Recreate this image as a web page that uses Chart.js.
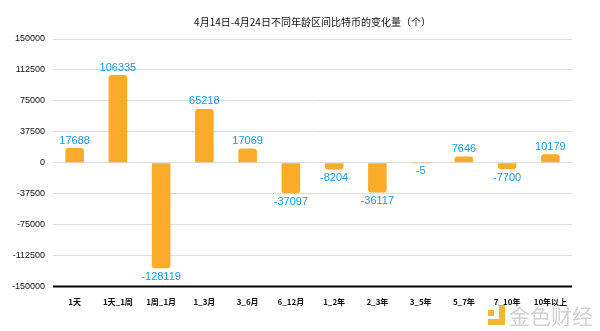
<!DOCTYPE html>
<html><head><meta charset="utf-8">
<script src="https://cdn.jsdelivr.net/npm/chart.js@4/dist/chart.umd.min.js"></script>
<style>html,body{margin:0;padding:0;background:#fff}#wrap{width:600px;height:331px}</style>
</head><body><div id="wrap"><canvas id="c" width="600" height="331"></canvas></div>
<script>
const categories = ['1天','1天_1周','1周_1月','1_3月','3_6月','6_12月','1_2年','2_3年','3_5年','5_7年','7_10年','10年以上'];
const values = [17688,106335,-128119,65218,17069,-37097,-8204,-36117,-5,7646,-7700,10179];
const yTicks = [150000,112500,75000,37500,0,-37500,-75000,-112500,-150000];
const titleText = '4月14日-4月24日不同年龄区间比特币的变化量（个）';
const FONT = "'Noto Sans CJK SC','Noto Sans',sans-serif";
const NUMFONT = "'Liberation Sans','Noto Sans',sans-serif";

const labelPlugin = {
  id:'vlabels',
  afterDatasetsDraw(chart){
    const ctx = chart.ctx;
    const meta = chart.getDatasetMeta(0);
    ctx.save();
    ctx.font = "11px " + NUMFONT;
    ctx.fillStyle = '#1e96dc';
    ctx.textAlign = 'center';
    meta.data.forEach((bar,i)=>{
      const v = values[i];
      if (v >= 0) { ctx.textBaseline='bottom'; ctx.fillText(String(v), bar.x, bar.y - 2); }
      else { ctx.textBaseline='top'; ctx.fillText(String(v), bar.x, bar.y + 3); }
    });
    ctx.restore();
  }
};
const decor = {
  id:'decor',
  afterDatasetsDraw(chart){
    const {ctx, chartArea:a} = chart;
    ctx.save();
    ctx.strokeStyle='#000'; ctx.lineWidth=2;
    ctx.beginPath(); ctx.moveTo(a.left, a.bottom); ctx.lineTo(a.right, a.bottom); ctx.stroke();
    // title centred over the plot area
    ctx.font = "10px " + FONT;
    ctx.fillStyle = '#111';
    ctx.textAlign='center'; ctx.textBaseline='middle';
    ctx.fillText(titleText, (a.left + a.right)/2, 22);
    // watermark
    ctx.fillStyle='#f2b630';
    ctx.fillRect(488,310,6,6);
    ctx.fillRect(499,305,6,20);
    ctx.fillRect(488,319,17,6);
    ctx.font = "21px " + FONT;
    ctx.fillStyle='#d2d2d2';
    ctx.textAlign='left'; ctx.textBaseline='middle';
    ctx.fillText('金色财经', 509, 316);
    ctx.restore();
  }
};

new Chart(document.getElementById('c'), {
  type:'bar',
  data:{ labels:categories, datasets:[{ data:values, backgroundColor:'#fbab2a', borderWidth:0, borderRadius:3, barPercentage:0.43, categoryPercentage:1 }]},
  options:{
    responsive:false, animation:false,
    layout:{ padding:{ left:6, right:28, top:39, bottom:21 } },
    plugins:{ legend:{display:false}, tooltip:{enabled:false}, title:{display:false} },
    scales:{
      x:{ grid:{display:false}, border:{display:false},
          ticks:{ color:'#111', font:{family:FONT, size:8, weight:'bold'}, padding:3, maxRotation:0, autoSkip:false } },
      y:{ min:-150000, max:150000,
          afterBuildTicks(s){ s.ticks = yTicks.map(v=>({value:v})); },
          afterFit(s){ s.width = 47; },
          grid:{ color:'#dddddd', lineWidth:1, drawTicks:false }, border:{display:false},
          ticks:{ color:'#111', font:{family:NUMFONT, size:9}, padding:8, callback:(v)=>String(v) } }
    }
  },
  plugins:[labelPlugin, decor]
});
</script></body></html>
